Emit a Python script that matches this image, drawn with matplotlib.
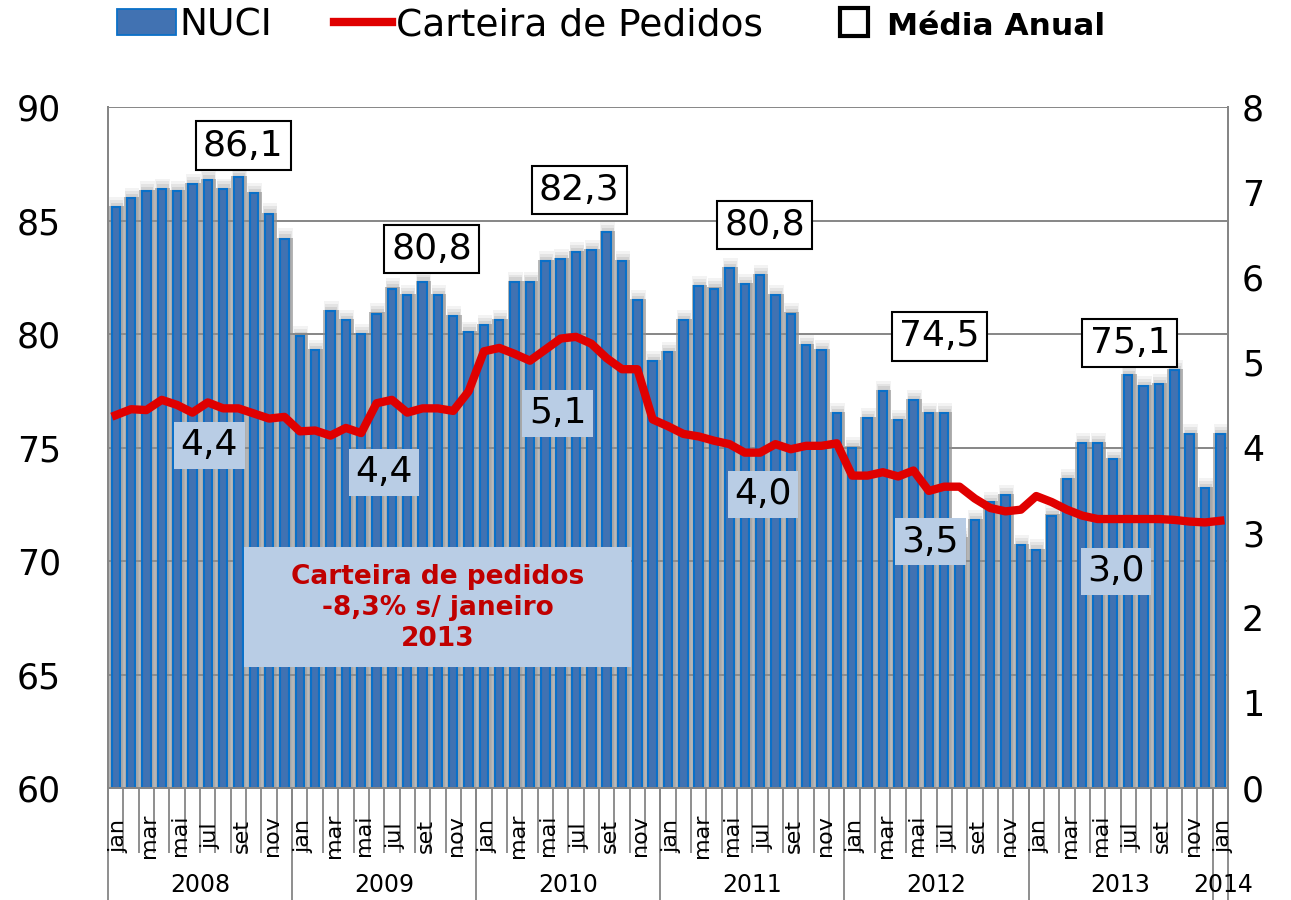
import numpy as np
import matplotlib
matplotlib.use('Agg')
import matplotlib.pyplot as plt
from matplotlib.patches import Patch, FancyBboxPatch
from matplotlib.lines import Line2D

# monthly data, jan/2008 .. jan/2014
nuci = [85.6, 86.0, 86.3, 86.4, 86.3, 86.6, 86.8, 86.4, 86.9, 86.2, 85.3, 84.2,
        79.9, 79.3, 81.0, 80.6, 80.0, 80.9, 82.0, 81.7, 82.3, 81.7, 80.8, 80.1,
        80.4, 80.6, 82.3, 82.3, 83.2, 83.3, 83.6, 83.7, 84.5, 83.2, 81.5, 78.8,
        79.2, 80.6, 82.1, 82.0, 82.9, 82.2, 82.6, 81.7, 80.9, 79.5, 79.3, 76.5,
        75.0, 76.3, 77.5, 76.2, 77.1, 76.5, 76.5, 71.0, 71.8, 72.6, 72.9, 70.7,
        70.5, 72.0, 73.6, 75.2, 75.2, 74.5, 78.2, 77.7, 77.8, 78.4, 75.6, 73.2,
        75.6]
carteira = [4.38, 4.45, 4.44, 4.56, 4.50, 4.41, 4.53, 4.46, 4.46, 4.40, 4.34, 4.36,
            4.19, 4.20, 4.14, 4.23, 4.17, 4.52, 4.56, 4.41, 4.46, 4.46, 4.43, 4.66,
            5.13, 5.17, 5.10, 5.02, 5.15, 5.28, 5.30, 5.22, 5.05, 4.92, 4.92, 4.33,
            4.25, 4.16, 4.13, 4.08, 4.04, 3.94, 3.94, 4.04, 3.98, 4.02, 4.02, 4.05,
            3.67, 3.67, 3.71, 3.66, 3.73, 3.49, 3.54, 3.54, 3.40, 3.29, 3.25, 3.27,
            3.43, 3.36, 3.27, 3.20, 3.16, 3.16, 3.16, 3.16, 3.16, 3.15, 3.13, 3.12,
            3.14]
months = ['jan', 'fev', 'mar', 'abr', 'mai', 'jun', 'jul', 'ago', 'set', 'out', 'nov', 'dez']
years = ['2008', '2009', '2010', '2011', '2012', '2013', '2014']

# yearly averages (label, x position, y position)
media_labels = ['86,1', '80,8', '82,3', '80,8', '74,5', '75,1']
media_x = [8.3, 20.6, 30.2, 42.3, 53.7, 66.1]
media_y = [88.3, 83.75, 86.35, 84.8, 79.9, 79.6]
cart_labels = ['4,4', '4,4', '5,1', '4,0', '3,5', '3,0']
cart_x = [6.1, 17.5, 28.8, 42.2, 53.1, 65.2]
cart_y = [75.1, 73.9, 76.5, 72.95, 70.85, 69.55]

x = np.arange(len(nuci))
nuci = np.array(nuci)

fig = plt.figure(figsize=(12.91, 9), dpi=100)
ax = fig.add_axes([0.0837, 0.1244, 0.8675, 0.7567])
ax2 = ax.twinx()

grid_c = '#868686'
ax.set_ylim(60, 90)
ax.set_xlim(-0.5, len(x) - 0.5)
ax.set_yticks(range(60, 91, 5))
ax.yaxis.grid(True, color=grid_c, lw=1.4, zorder=0)
ax.set_axisbelow(True)

# soft shadow behind bars
for k, a in enumerate([0.10, 0.14, 0.2]):
    ax.bar(x + 0.06, nuci - 60 + 0.45 - 0.13 * k, bottom=60, width=0.95 - 0.08 * k,
           color='#8a8a8a', alpha=a, lw=0, zorder=1)
ax.bar(x + 0.04, nuci - 60 + 0.05, bottom=60, width=1.0, color='#8f8f8f', alpha=0.62,
       lw=0, zorder=1)
ax.bar(x, nuci - 60, bottom=60, width=0.55, color='#4172B2', edgecolor='#0A70C8',
       lw=1.5, zorder=2)

ax2.set_ylim(0, 8)
ax2.set_yticks(range(0, 9))
ax2.plot(x, carteira, color='#E00000', lw=6, solid_joinstyle='round', zorder=3)

for a in (ax, ax2):
    for s in a.spines.values():
        s.set_color(grid_c)
        s.set_linewidth(1.4)
    a.spines['top'].set_visible(False)
ax.tick_params(axis='y', length=0, labelsize=25, pad=34)
ax2.tick_params(axis='y', length=0, labelsize=25, pad=10)

# x axis: month separators, labels, years
ax.set_xticks(np.arange(-0.5, len(x), 1), minor=True)
ax.set_xticks([])
ax.tick_params(axis='x', which='minor', length=47, color=grid_c, width=1.3)
for i in range(0, len(x), 2):
    ax.text(i + 0.2, -0.07, months[i % 12], transform=ax.get_xaxis_transform(),
            rotation=90, ha='center', va='center', fontsize=16)
bounds = list(np.arange(-0.5, len(x), 12)) + [len(x) - 0.5]
for b in bounds:
    ax.plot([b, b], [0, -0.165], transform=ax.get_xaxis_transform(), color=grid_c,
            lw=1.3, clip_on=False)
for j, yr in enumerate(years):
    cx = 12 * j + 5.5 if j < 6 else 72.2
    ax.text(cx, -0.143, yr, transform=ax.get_xaxis_transform(), ha='center',
            va='center', fontsize=17)

# annotations
for lab, px, py in zip(media_labels, media_x, media_y):
    ax2.text(px, py, lab, transform=ax.transData, ha='center', va='center', fontsize=26,
             zorder=6, bbox=dict(boxstyle='square,pad=0.2', fc='white', ec='black', lw=1.5))
for lab, px, py in zip(cart_labels, cart_x, cart_y):
    ax2.text(px, py, lab, transform=ax.transData, ha='center', va='center', fontsize=26,
             zorder=6, bbox=dict(boxstyle='square,pad=0.18', fc='#B9CDE5', ec='none'))

box = FancyBboxPatch((8.37, 65.33), 25.2, 5.29, boxstyle='square,pad=0', fc='#B9CDE5',
                     ec='none', transform=ax.transData, zorder=5)
ax2.add_patch(box)
ax2.text(21.0, 67.95, 'Carteira de pedidos\n-8,3% s/ janeiro\n2013', transform=ax.transData,
         ha='center', va='center', fontsize=19, fontweight='bold', color='#C00000',
         linespacing=1.25, zorder=6)

handles = [Patch(fc='#4172B2', ec='#0A70C8', lw=1.3),
           Line2D([0], [0], color='#E00000', lw=6),
           Line2D([0], [0], ls='none', marker='s', markersize=20, mfc='white',
                  mec='black', mew=3)]
leg = fig.legend(handles, ['NUCI', 'Carteira de Pedidos', 'Média Anual'],
                 loc='center left', bbox_to_anchor=(0.091, 0.972), ncol=3, frameon=False,
                 fontsize=27, handlelength=1.55, handletextpad=0.1, columnspacing=1.65,
                 borderaxespad=0, borderpad=0)
leg.get_texts()[2].set_fontweight('bold')
leg.get_texts()[2].set_fontsize(22.5)

fig.savefig('out.png', dpi=100)
